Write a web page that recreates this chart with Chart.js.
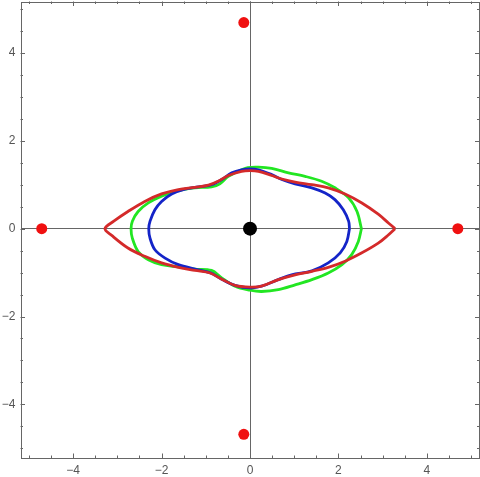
<!DOCTYPE html>
<html>
<head>
<meta charset="utf-8">
<script src="https://cdn.jsdelivr.net/npm/chart.js@4"></script>
<style>
  html, body { margin: 0; padding: 0; background: #fff; }
  #wrap { width: 480px; height: 477px; }
</style>
</head>
<body>
<div id="wrap"><canvas id="plot"></canvas></div>
<script>
// Axis setup
const xRange = [-5.19, 5.19];
const yRange = [-5.22, 5.17];
const majorTicks = [-4, -2, 0, 2, 4];

// Closed curves, traced counter-clockwise from the right tip
const redCurve = [
    [3.28, 0], [3.13, 0.13], [2.90, 0.33], [2.53, 0.585], [2.15, 0.79], [1.77, 0.93],
    [1.40, 1.0], [1.02, 1.06], [0.72, 1.13], [0.49, 1.21], [0.19, 1.305], [0.0, 1.32],
    [-0.19, 1.305], [-0.49, 1.21], [-0.72, 1.08], [-0.94, 0.99], [-1.245, 0.94], [-1.62, 0.89],
    [-2.0, 0.79], [-2.38, 0.62], [-2.76, 0.39], [-3.08, 0.17], [-3.28, 0],
    [-3.12, -0.16], [-2.76, -0.44], [-2.38, -0.63], [-2.0, -0.78], [-1.62, -0.88],
    [-1.245, -0.95], [-0.905, -1.01], [-0.64, -1.15], [-0.34, -1.29], [0.0, -1.33],
    [0.26, -1.31], [0.64, -1.16], [1.02, -1.05], [1.40, -0.97], [1.77, -0.88],
    [2.15, -0.74], [2.53, -0.55], [2.90, -0.33], [3.12, -0.15], [3.28, 0]
];

const blueCurve = [
    [2.25, 0], [2.23, 0.17], [2.11, 0.43], [1.92, 0.66], [1.70, 0.81], [1.40, 0.93],
    [1.02, 1.02], [0.72, 1.12], [0.49, 1.23], [0.19, 1.34], [0.0, 1.36], [-0.19, 1.34],
    [-0.41, 1.27], [-0.64, 1.12], [-0.87, 1.0], [-1.17, 0.95], [-1.47, 0.90], [-1.77, 0.79],
    [-2.0, 0.62], [-2.15, 0.43], [-2.26, 0.17], [-2.29, 0],
    [-2.26, -0.22], [-2.15, -0.48], [-1.92, -0.67], [-1.62, -0.82], [-1.245, -0.92],
    [-0.905, -1.0], [-0.64, -1.15], [-0.34, -1.29], [0.0, -1.35], [0.26, -1.31],
    [0.64, -1.16], [0.94, -1.05], [1.40, -0.96], [1.77, -0.78], [2.04, -0.55],
    [2.19, -0.29], [2.25, 0]
];

const greenCurve = [
    [2.52, 0], [2.42, 0.39], [2.23, 0.70], [1.92, 0.93], [1.62, 1.08], [1.245, 1.19],
    [0.87, 1.27], [0.49, 1.37], [0.19, 1.40], [-0.05, 1.39], [-0.19, 1.34], [-0.49, 1.19],
    [-0.68, 1.02], [-0.87, 0.95], [-1.245, 0.93], [-1.62, 0.87], [-2.0, 0.74],
    [-2.30, 0.585], [-2.53, 0.39], [-2.66, 0.17], [-2.69, 0],
    [-2.66, -0.22], [-2.53, -0.52], [-2.30, -0.71], [-2.0, -0.82], [-1.62, -0.87],
    [-1.245, -0.92], [-0.87, -0.95], [-0.64, -1.12], [-0.34, -1.31], [0.0, -1.40],
    [0.26, -1.43], [0.64, -1.39], [1.02, -1.28], [1.40, -1.16], [1.77, -1.01],
    [2.08, -0.82], [2.30, -0.59], [2.45, -0.29], [2.52, 0]
];

const redPoints = [[-0.14, 4.69], [-4.71, 0], [4.70, 0], [-0.14, -4.68]];
const blackPoints = [[0, 0]];

const toXY = arr => arr.map(p => ({ x: p[0], y: p[1] }));
const fmt = v => (v < 0 ? '\u2212' + Math.abs(v) : String(v));

// Mathematica-like frame with inward ticks
const framePlugin = {
    id: 'frame',
    afterDatasetsDraw(chart) {
        const { ctx, chartArea: a, scales } = chart;
        const sx = scales.x, sy = scales.y;
        ctx.save();
        ctx.strokeStyle = '#666';
        ctx.lineWidth = 1;
        ctx.strokeRect(Math.round(a.left) + 0.5, Math.round(a.top) + 0.5,
            Math.round(a.right - a.left) - 1, Math.round(a.bottom - a.top) - 1);
        ctx.beginPath();
        for (let v = -5; v <= 5.001; v += 0.5) {
            const major = Math.abs(v % 2) < 1e-9;
            const len = major ? 4.5 : 2.5;
            const px = Math.round(sx.getPixelForValue(v)) + 0.5;
            ctx.moveTo(px, a.bottom); ctx.lineTo(px, a.bottom - len);
            ctx.moveTo(px, a.top); ctx.lineTo(px, a.top + len);
            const py = Math.round(sy.getPixelForValue(v)) + 0.5;
            if (py > a.top && py < a.bottom) {
                ctx.moveTo(a.left, py); ctx.lineTo(a.left + len, py);
                ctx.moveTo(a.right, py); ctx.lineTo(a.right - len, py);
            }
        }
        ctx.stroke();
        ctx.restore();
    }
};

const tickFont = { family: 'Liberation Sans', size: 12 };
const zeroOnly = c => (c.tick && c.tick.value === 0 ? '#666' : 'rgba(0,0,0,0)');
const noPad = s => { s.paddingLeft = 0; s.paddingRight = 0; s.paddingTop = 0; s.paddingBottom = 0; };

new Chart(document.getElementById('plot'), {
    type: 'scatter',
    data: {
        datasets: [
            { label: 'black', data: toXY(blackPoints), backgroundColor: '#000', borderWidth: 0, pointRadius: 7 },
            { label: 'points', data: toXY(redPoints), backgroundColor: '#f01010', borderWidth: 0, pointRadius: 5.5 },
            { label: 'red', data: toXY(redCurve), showLine: true, borderColor: '#d42a2a', borderWidth: 2.8, pointRadius: 0, tension: 0.35, fill: false },
            { label: 'blue', data: toXY(blueCurve), showLine: true, borderColor: '#1424c8', borderWidth: 2.8, pointRadius: 0, tension: 0.35, fill: false },
            { label: 'green', data: toXY(greenCurve), showLine: true, borderColor: '#22e622', borderWidth: 2.8, pointRadius: 0, tension: 0.35, fill: false }
        ]
    },
    options: {
        responsive: true,
        maintainAspectRatio: false,
        animation: false,
        events: [],
        layout: { autoPadding: false, padding: { top: 1.5, right: 0.5, left: 0, bottom: 0 } },
        plugins: { legend: { display: false }, tooltip: { enabled: false } },
        scales: {
            x: {
                type: 'linear', min: xRange[0], max: xRange[1],
                afterBuildTicks: s => { s.ticks = majorTicks.map(v => ({ value: v })); },
                afterFit: s => { s.height = 19; noPad(s); },
                border: { display: false },
                grid: { color: zeroOnly, lineWidth: 1, drawTicks: false },
                ticks: { font: tickFont, color: '#555', padding: 5, maxRotation: 0, callback: v => fmt(v) }
            },
            y: {
                type: 'linear', min: yRange[0], max: yRange[1],
                afterBuildTicks: s => { s.ticks = majorTicks.map(v => ({ value: v })); },
                afterFit: s => { s.width = 20.5; noPad(s); },
                border: { display: false },
                grid: { color: zeroOnly, lineWidth: 1, drawTicks: false },
                ticks: { font: tickFont, color: '#555', padding: 5, callback: v => fmt(v) }
            }
        }
    },
    plugins: [framePlugin]
});
</script>
</body>
</html>
